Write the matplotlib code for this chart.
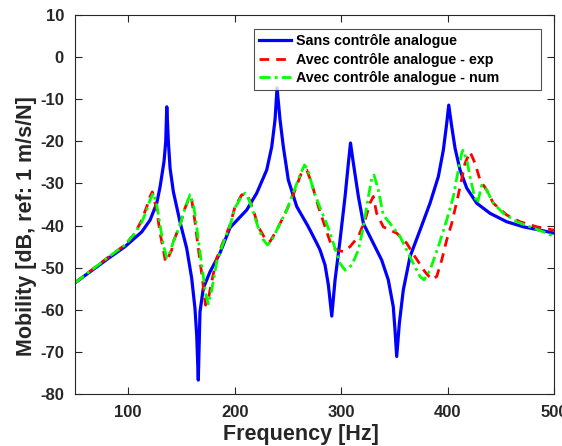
import numpy as np
import matplotlib
matplotlib.use('Agg')
import matplotlib.pyplot as plt

plt.rcParams['font.family'] = ['Liberation Sans', 'DejaVu Sans']
plt.rcParams['font.weight'] = 'bold'
plt.rcParams['axes.unicode_minus'] = False

# Sans controle (blue)
f_sans = [50, 81.3, 97.0, 112.7, 120.5, 126.8, 129.9, 133.6, 135.2, 136.2, 137.7, 139.3,
          142.4, 148.6, 154.9, 159.6, 162.7, 164.3, 165.8, 167.4, 170.5, 176.8, 186.2,
          195.6, 211.3, 220.7, 230.1, 234.8, 237.9, 239.8, 242.6, 245.7, 250.4, 258.3,
          269.2, 277.1, 280.2, 284.9, 288.0, 291.2, 294.3, 299.0, 303.7, 306.8, 308.8,
          311.5, 316.2, 320.9, 330.2, 338.1, 344.3, 349.0, 350.6, 352.2, 354.7, 358.4,
          364.7, 374.1, 383.5, 391.3, 396.0, 399.2, 401.1, 403.9, 407.0, 411.7, 418.0,
          427.4, 439.9, 455.6, 471.2, 486.9, 500]
db_sans = [-53.6, -47.8, -45.0, -41.5, -38.7, -34.7, -30.8, -24.8, -20.1, -11.8, -20.1, -26.4,
           -32.0, -39.1, -45.4, -52.5, -59.7, -66.0, -76.7, -60.5, -54.9, -51.0, -46.5,
           -40.5, -36.3, -32.3, -26.8, -21.3, -14.9, -7.3, -14.9, -21.3, -29.2, -35.5,
           -40.3, -44.2, -45.8, -49.4, -54.1, -61.5, -52.9, -43.4, -33.1, -25.2, -20.4,
           -25.2, -33.1, -39.5, -44.2, -48.2, -52.9, -59.3, -64.8, -71.1, -63.2, -55.3,
           -47.4, -41.1, -34.7, -28.4, -22.1, -15.7, -11.4, -16.5, -21.6, -26.8, -31.1,
           -34.7, -37.1, -39.1, -40.3, -41.1, -41.8]

# Avec controle - exp (red)
f_exp = [50, 81.3, 97.0, 106.4, 112.7, 117.4, 120.5, 122.6, 126.8, 129.9, 133.0, 135.0,
         136.4, 140.8, 142.4, 148.6, 153.3, 157.1, 159.2, 162.7, 165.8, 170.0, 172.6,
         175.0, 178.4, 183.1, 189.3, 195.6, 200.3, 206.6, 211.6, 217.5, 222.2, 230.1,
         233.2, 239.5, 248.9, 256.7, 263.0, 267.7, 272.4, 278.6, 284.9, 291.2, 295.9,
         302.1, 308.4, 316.2, 322.5, 327.1, 330.2, 333.4, 339.6, 345.9, 352.2, 361.6,
         369.4, 378.8, 385.1, 389.8, 394.5, 399.2, 403.9, 410.1, 416.4, 421.1, 425.8,
         430.5, 436.8, 443.0, 455.6, 468.1, 483.8, 500]
db_exp = [-53.6, -47.5, -44.6, -41.8, -38.7, -35.5, -33.1, -32.0, -36.3, -41.8, -45.8, -48.6,
          -48.2, -45.8, -43.8, -39.9, -35.9, -33.5, -33.2, -39.1, -45.4, -53.3, -58.9,
          -57.7, -53.3, -47.8, -43.8, -39.9, -35.5, -32.7, -32.5, -36.3, -40.3, -43.8,
          -43.8, -41.1, -36.3, -31.6, -27.3, -26.8, -30.0, -35.5, -40.3, -45.0, -45.8,
          -46.2, -45.0, -42.6, -38.7, -34.7, -33.1, -37.1, -40.3, -41.1, -41.8, -44.2,
          -47.4, -51.0, -52.8, -52.1, -48.2, -43.4, -39.5, -32.7, -25.2, -22.5, -25.2,
          -29.2, -31.6, -34.7, -37.5, -39.1, -40.3, -41.1]

# Avec controle - num (green)
f_num = [50, 81.3, 97.0, 106.4, 112.7, 117.4, 120.5, 123.6, 126.8, 129.9, 133.0, 136.1,
         139.3, 142.4, 148.6, 153.3, 158.0, 161.3, 163.7, 166.5, 170.3, 173.1, 175.2,
         178.4, 183.1, 189.3, 195.6, 200.3, 206.6, 209.7, 213.5, 217.5, 222.2, 226.9,
         230.9, 235.1, 239.5, 248.9, 256.7, 261.4, 265.6, 268.9, 273.9, 281.8, 286.5,
         292.7, 299.0, 303.7, 310.0, 316.2, 320.9, 325.6, 328.8, 330.9, 335.0, 339.6,
         345.9, 355.3, 363.1, 369.4, 374.1, 377.9, 383.5, 391.3, 399.2, 405.4, 410.1,
         413.3, 414.5, 418.0, 421.1, 424.9, 428.0, 432.1, 436.8, 443.0, 452.4, 465.0,
         477.5, 490.0, 500]
db_num = [-53.6, -47.5, -44.6, -41.8, -39.2, -36.3, -33.9, -32.3, -35.1, -39.9, -44.6, -47.6,
          -46.3, -43.8, -39.9, -35.9, -32.7, -35.1, -39.2, -44.6, -51.7, -56.7, -58.6,
          -55.3, -48.7, -44.1, -40.1, -35.8, -33.0, -32.3, -33.9, -36.8, -40.6, -43.4,
          -44.6, -43.4, -41.1, -36.3, -31.1, -28.0, -25.6, -26.8, -31.6, -36.8, -39.6,
          -44.2, -49.0, -50.6, -49.4, -45.8, -40.3, -33.1, -28.7, -28.0, -31.6, -37.5,
          -39.5, -42.6, -46.6, -49.8, -52.1, -52.9, -50.6, -45.0, -38.7, -33.1, -26.8,
          -22.8, -22.1, -24.4, -28.4, -32.7, -34.7, -30.4, -31.6, -34.7, -37.1, -39.1,
          -40.3, -41.5, -42.6]

labels = ['Sans contrôle analogue', 'Avec contrôle analogue - exp', 'Avec contrôle analogue - num']
xticks = [100, 200, 300, 400, 500]
yticks = list(range(-80, 11, 10))

fig = plt.figure(figsize=(5.62, 4.46), dpi=100)
ax = fig.add_axes([0.1335, 0.1166, 0.8523, 0.8498])

ax.plot(f_sans, db_sans, color='#0000ff', lw=2.3, ls='-', label=labels[0])
ax.plot(f_exp, db_exp, color='#ff0000', lw=2.0, ls=(0, (3.5, 2.5)), label=labels[1])
ax.plot(f_num, db_num, color='#00ff00', lw=2.0, ls=(0, (4, 1.5, 1, 1.5)), label=labels[2])

ax.set_xlim(50, 500)
ax.set_ylim(-80, 10)
ax.set_xticks(xticks)
ax.set_yticks(yticks)
ax.tick_params(direction='in', top=True, right=True, length=5, width=0.8,
               labelsize=12, colors='#262626', pad=8)
for lab in ax.get_xticklabels() + ax.get_yticklabels():
    lab.set_fontweight('bold')
for s in ax.spines.values():
    s.set_color('#262626')
    s.set_linewidth(0.8)

ax.set_xlabel('Frequency [Hz]', fontsize=15.5, fontweight='bold', color='#262626', labelpad=3)
ax.set_ylabel('Mobility [dB, ref: 1 m/s/N]', fontsize=15.5, fontweight='bold', color='#262626', labelpad=2)
ax.xaxis.label.set_x(0.472)
ax.yaxis.label.set_y(0.443)

leg = ax.legend(loc='upper left', bbox_to_anchor=(0.3737, 0.5, 0.599, 0.463), mode='expand',
                fontsize=10.3, frameon=True, fancybox=False, edgecolor='#262626',
                handlelength=2.25, borderpad=0.35, labelspacing=0.33, handletextpad=0.3,
                borderaxespad=0)
leg.get_frame().set_linewidth(0.8)
for t in leg.get_texts():
    t.set_fontweight('bold')

fig.savefig('out.png', dpi=100)
